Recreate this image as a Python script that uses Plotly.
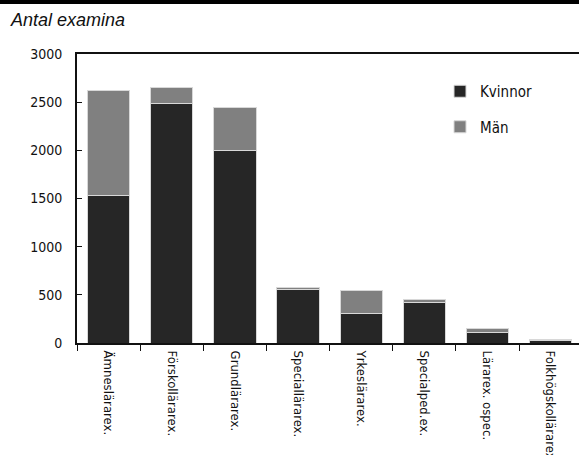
import plotly.graph_objects as go

categories = ["Ämneslärarex.", "Förskollärarex.", "Grundlärarex.", "Speciallärarex.",
              "Yrkeslärarex.", "Specialped.ex.", "Lärarex. ospec.", "Folkhögskollärarex."]
kvinnor = [1530, 2490, 1995, 555, 310, 420, 105, 25]
man = [1090, 165, 445, 25, 230, 35, 45, 15]
y_ticks = [0, 500, 1000, 1500, 2000, 2500, 3000]

FONT = "DejaVu Sans Condensed, Liberation Sans Narrow, Arial Narrow, sans-serif"
PH = 289.0  # plot height in px
PW = 502.0  # plot width in px

fig = go.Figure()
fig.add_trace(go.Bar(x=categories, y=kvinnor, name="Kvinnor", legendgroup="k",
                     marker=dict(color="#262626", line=dict(color="#d8d8d8", width=1)),
                     width=0.67))
fig.add_trace(go.Bar(x=categories, y=man, name="Män", legendgroup="m",
                     marker=dict(color="#808080", line=dict(color="#d8d8d8", width=1)),
                     width=0.67))

fig.update_layout(
    barmode="stack",
    width=579, height=455,
    margin=dict(l=77, r=0, t=54, b=112, autoexpand=False),
    paper_bgcolor="white", plot_bgcolor="white",
    font=dict(family=FONT, size=15, color="#111111"),
    showlegend=True,
    legend=dict(x=(440 - 77) / PW, y=1 - (75 - 54) / PH, xanchor="left", yanchor="top",
                traceorder="grouped", tracegroupgap=13, font=dict(size=15),
                itemwidth=30, bgcolor="rgba(0,0,0,0)"),
    xaxis=dict(type="category", range=[-0.5, 7.45], tickangle=90, automargin=False,
               showline=True, linecolor="#111111", linewidth=2, mirror=True,
               ticks="outside", ticklen=6, tickcolor="#111111", tickwidth=1,
               tickson="boundaries", showgrid=False, ticklabelstandoff=3,
               tickfont=dict(family=FONT, size=13)),
    yaxis=dict(range=[0, 3000], tickvals=y_ticks, showgrid=False, automargin=False,
               showline=True, linecolor="#111111", linewidth=2,
               ticks="inside", ticklen=5, tickcolor="#111111",
               ticklabelstandoff=10, zeroline=False,
               tickfont=dict(family=FONT, size=14)),
)

# Top black rule across the page
fig.add_shape(type="line", xref="paper", yref="paper",
              x0=-77 / PW, x1=1.0, y0=1 + 52 / PH, y1=1 + 52 / PH,
              line=dict(color="black", width=4))

fig.add_annotation(text="<i>Antal examina</i>", xref="paper", yref="paper",
                   x=-69 / PW, y=1 + 34 / PH, xanchor="left", yanchor="middle",
                   showarrow=False,
                   font=dict(family="Liberation Sans, Arial, sans-serif", size=18,
                             color="#111111"))

fig.write_html("out.html", config={"displayModeBar": False},
               post_script="document.body.style.margin='0';")
